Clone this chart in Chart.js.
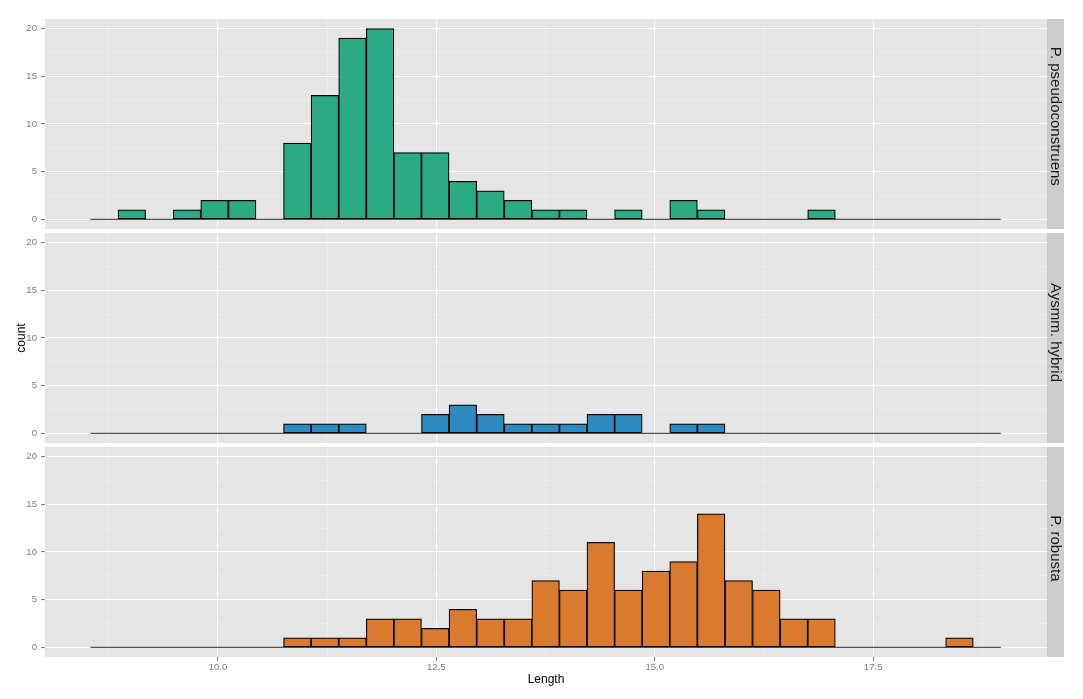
<!DOCTYPE html>
<html>
<head>
<meta charset="utf-8">
<script src="https://cdn.jsdelivr.net/npm/chart.js@4/dist/chart.umd.min.js"></script>
<style>
  html, body { margin: 0; padding: 0; background: #fff; }
  #wrap { position: relative; width: 1083px; height: 699px; }
  canvas { position: absolute; left: 0; }
</style>
</head>
<body>
<div id="wrap">
  <canvas id="c1" width="1083" height="229" style="top:0px"></canvas>
  <canvas id="c2" width="1083" height="214" style="top:229px"></canvas>
  <canvas id="c3" width="1083" height="256" style="top:443px"></canvas>
</div>
<script>
// histogram bins (33 bins of equal width)
const binStart = 8.54;
const binWidth = 0.3158;

const panelLabels = ['P. pseudoconstruens', 'Aysmm. hybrid', 'P. robusta'];
const pseudoCounts  = [0,1,0,1,2,2,0,8,13,19,20,7,7,4,3,2,1,1,0,1,0,2,1,0,0,0,1,0,0,0,0,0,0];
const hybridCounts  = [0,0,0,0,0,0,0,1,1,1,0,0,2,3,2,1,1,1,2,2,0,1,1,0,0,0,0,0,0,0,0,0,0];
const robustaCounts = [0,0,0,0,0,0,0,1,1,1,3,3,2,4,3,3,7,6,11,6,8,9,14,7,6,3,3,0,0,0,0,1,0];
const panelColors = ['#2CAA86', '#2E8BC0', '#D97A2E'];

const xMajorTicks = [10, 12.5, 15, 17.5];
const xMinorTicks = [8.75, 11.25, 13.75, 16.25, 18.75];
const yMajorTicks = [0, 5, 10, 15, 20];
const yMinorTicks = [2.5, 7.5, 12.5, 17.5];

const FONT = "'Liberation Sans', Arial, sans-serif";

const isMajor = (list, c) => !!(c.tick && list.includes(c.tick.value));

const panelBg = {
  id: 'panelBg',
  beforeDraw(chart) {
    const {ctx, chartArea: a} = chart;
    ctx.save();
    ctx.fillStyle = '#E5E5E5';
    ctx.fillRect(a.left, a.top, a.right - a.left, a.bottom - a.top);
    ctx.restore();
  }
};

// facet strip on the right of each panel
const strip = {
  id: 'strip',
  afterDraw(chart, args, opts) {
    const {ctx, chartArea: a} = chart;
    ctx.save();
    ctx.fillStyle = '#CCCCCC';
    ctx.fillRect(a.right, a.top, 17, a.bottom - a.top);
    ctx.font = '15px ' + FONT;
    const w = ctx.measureText(opts.label).width;
    ctx.translate(a.right + 8.5, (a.top + a.bottom) / 2 - 0.055 * w);
    ctx.rotate(Math.PI / 2);
    ctx.fillStyle = '#1A1A1A';
    ctx.textAlign = 'center';
    ctx.textBaseline = 'middle';
    ctx.fillText(opts.label, 0, 0);
    ctx.restore();
  }
};

function makePanel(id, counts, color, label, showX, showYTitle, padTop) {
  const edges = [];
  for (let i = 0; i <= counts.length; i++) edges.push({x: binStart + i * binWidth, y: 0});
  const bars = counts.map((c, i) => ({x: binStart + (i + 0.5) * binWidth, y: c}));

  return new Chart(document.getElementById(id), {
    type: 'bar',
    data: {
      datasets: [{
        data: bars,
        backgroundColor: color,
        borderColor: '#000000',
        borderWidth: 1.2,
        borderSkipped: false,
        barPercentage: 1,
        categoryPercentage: 1,
        order: 0
      }, {
        type: 'line',
        data: edges,
        borderColor: '#555555',
        borderWidth: 1.2,
        pointRadius: 0,
        order: 1
      }]
    },
    options: {
      responsive: false,
      animation: false,
      layout: { padding: { left: 0, right: 36, top: padTop, bottom: 0 } },
      plugins: { legend: { display: false }, tooltip: { enabled: false }, strip: { label: label } },
      scales: {
        x: {
          type: 'linear',
          min: 8.02,
          max: 19.49,
          offset: false,
          afterBuildTicks: s => { s.ticks = xMajorTicks.concat(xMinorTicks).sort((a, b) => a - b).map(v => ({value: v})); },
          afterFit: s => { s.height = showX ? 42 : 0; s.paddingLeft = 0; s.paddingRight = 0; },
          border: { display: false },
          grid: {
            offset: false,
            color: c => isMajor(xMajorTicks, c) ? '#FFFFFF' : '#F0F0F0',
            lineWidth: c => isMajor(xMajorTicks, c) ? 1.1 : 0.6,
            drawTicks: showX,
            tickLength: 4,
            tickColor: c => isMajor(xMajorTicks, c) ? '#7F7F7F' : 'rgba(0,0,0,0)'
          },
          ticks: {
            display: showX,
            autoSkip: false,
            maxRotation: 0,
            padding: 1,
            color: '#7F7F7F',
            font: { family: FONT, size: 9.6 },
            callback: v => xMajorTicks.includes(v) ? v.toFixed(1) : ''
          },
          title: {
            display: showX,
            text: 'Length',
            color: '#000000',
            font: { family: FONT, size: 12 },
            padding: { top: 0, bottom: 12 }
          }
        },
        y: {
          min: -1,
          max: 21,
          afterBuildTicks: s => { s.ticks = yMajorTicks.concat(yMinorTicks).sort((a, b) => a - b).map(v => ({value: v})); },
          afterFit: s => { s.width = 45; s.paddingTop = 0; s.paddingBottom = 0; },
          border: { display: false },
          grid: {
            color: c => isMajor(yMajorTicks, c) ? '#FFFFFF' : '#F0F0F0',
            lineWidth: c => isMajor(yMajorTicks, c) ? 1.1 : 0.6,
            tickLength: 4,
            tickColor: c => isMajor(yMajorTicks, c) ? '#7F7F7F' : 'rgba(0,0,0,0)'
          },
          ticks: {
            autoSkip: false,
            padding: 4,
            color: '#7F7F7F',
            font: { family: FONT, size: 9.6 },
            callback: v => yMajorTicks.includes(v) ? String(v) : ''
          },
          title: {
            display: showYTitle,
            text: 'count',
            color: '#000000',
            font: { family: FONT, size: 12 },
            padding: { top: 14, bottom: 0 }
          }
        }
      }
    },
    plugins: [panelBg, strip]
  });
}

makePanel('c1', pseudoCounts, panelColors[0], panelLabels[0], false, false, 19);
makePanel('c2', hybridCounts, panelColors[1], panelLabels[1], false, true, 4);
makePanel('c3', robustaCounts, panelColors[2], panelLabels[2], true, false, 4);
</script>
</body>
</html>
